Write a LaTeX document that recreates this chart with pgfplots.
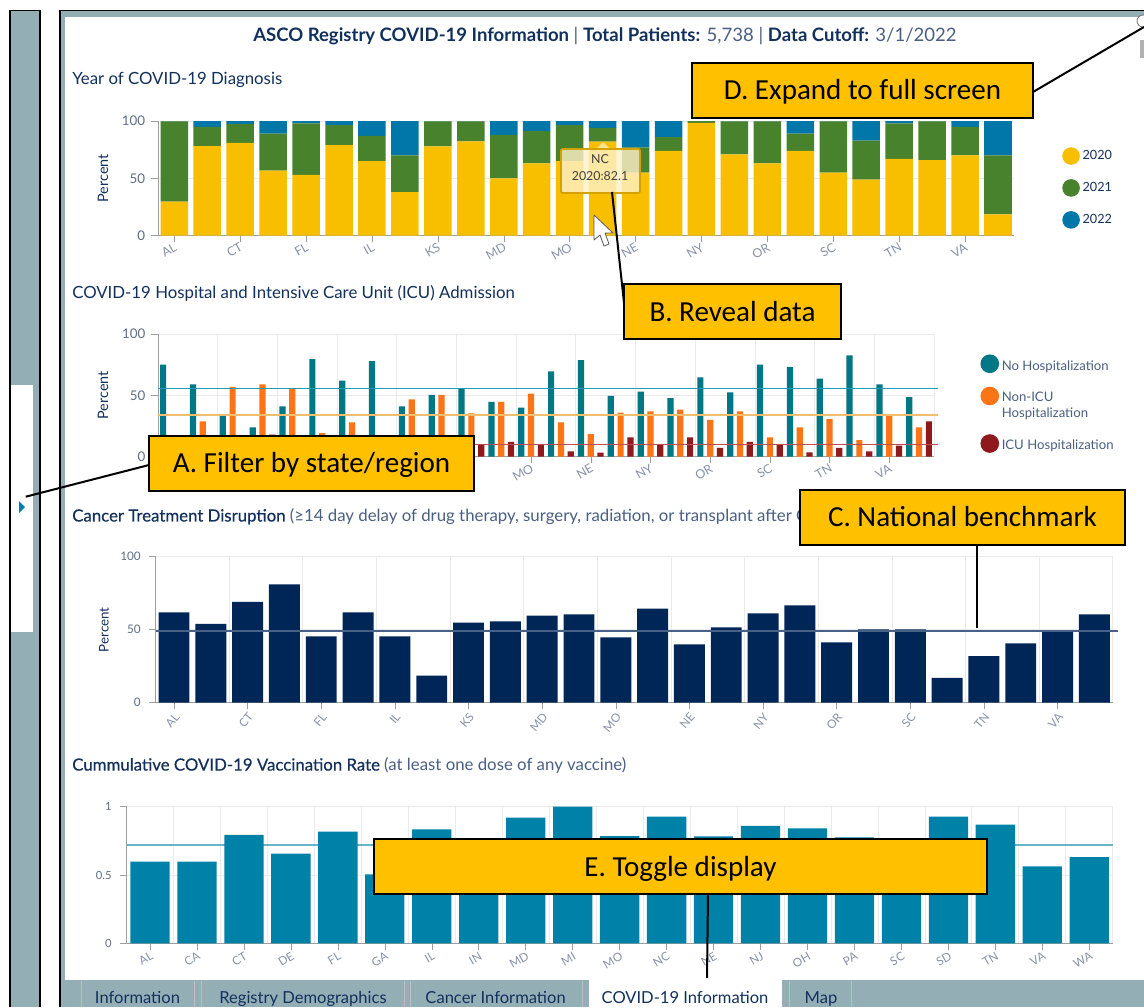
\documentclass[border=0pt]{standalone}
\usepackage{fontspec}
\setmainfont{Lato}
\newfontfamily\callout{Carlito}
\newfontfamily\med[FakeBold=0.4]{Lato}
\usepackage{pgfplots}
\usepackage{pgfplotstable}
\pgfplotsset{compat=1.18}
\definecolor{cy20}{HTML}{F8BF00}
\definecolor{cy21}{HTML}{48822C}
\definecolor{cy22}{HTML}{0077A8}
\definecolor{hteal}{HTML}{007784}
\definecolor{horange}{HTML}{FB7416}
\definecolor{hmaroon}{HTML}{8E1A1E}
\definecolor{navybar}{HTML}{002557}
\definecolor{vacc}{HTML}{0082A8}
\definecolor{panel}{HTML}{94AEB6}
\definecolor{navytext}{HTML}{12305C}
\definecolor{softtext}{HTML}{4A5F82}
\definecolor{ticktext}{HTML}{5E6E88}
\definecolor{xticktext}{HTML}{8792A8}
\definecolor{gridc}{HTML}{EAEAEA}
\definecolor{boxc}{HTML}{FFC000}
\definecolor{bnteal}{HTML}{1F9CB8}
\definecolor{bnorange}{HTML}{F0BE6E}
\definecolor{bnmaroon}{HTML}{C24A55}
\newcommand\F[1]{\fontsize{#1}{1.2\dimexpr#1pt\relax}\selectfont}
\pgfplotstableread{
i a b c
0 29.7 70.0 0.3
1 78.2 16.8 5.0
2 81.0 16.4 2.6
3 56.7 32.3 11.0
4 53.0 45.0 2.0
5 79.0 17.5 3.5
6 65.0 22.0 13.0
7 38.0 32.0 30.0
8 78.0 21.7 0.3
9 82.3 17.4 0.3
10 50.0 38.0 12.0
11 63.0 28.3 8.7
12 65.0 31.5 3.5
13 82.1 11.9 6.0
14 55.0 22.0 23.0
15 74.0 12.0 14.0
16 98.3 1.7 0.0
17 71.0 28.7 0.3
18 63.0 36.7 0.3
19 74.0 15.0 11.0
20 55.0 44.7 0.3
21 49.0 34.0 17.0
22 67.0 31.0 2.0
23 66.0 33.7 0.3
24 70.0 25.0 5.0
25 18.6 51.4 30.0
}\tyear
\pgfplotstableread{
i a b c
0 75.0 16.0 9.0
1 59.0 28.8 10.0
2 33.7 57.0 9.0
3 24.0 59.0 18.0
4 41.0 56.0 4.0
5 79.6 19.3 5.0
6 62.0 28.0 5.0
7 78.0 8.0 14.0
8 41.0 46.7 10.0
9 50.5 50.5 3.0
10 55.7 35.3 10.0
11 44.8 44.8 12.0
12 40.0 51.4 10.0
13 69.6 28.0 4.3
14 78.8 18.5 3.3
15 49.7 36.0 15.8
16 53.0 37.0 10.0
17 47.8 38.3 15.8
18 64.7 30.0 7.3
19 52.4 37.0 12.0
20 75.0 15.8 10.0
21 73.0 24.0 3.5
22 63.6 30.7 7.3
23 82.6 13.6 4.3
24 59.0 33.7 9.0
25 48.6 24.0 28.8
}\thosp
\pgfplotstableread{
i a
0 61.9
1 54.0
2 69.0
3 81.0
4 45.4
5 61.9
6 45.4
7 18.5
8 54.8
9 55.7
10 59.6
11 60.5
12 44.7
13 64.4
14 40.0
15 51.6
16 61.2
17 66.7
18 41.3
19 50.2
20 50.2
21 17.0
22 32.0
23 40.6
24 49.3
25 60.5
}\tdis
\pgfplotstableread{
i a
0 0.598
1 0.598
2 0.793
3 0.656
4 0.817
5 0.505
6 0.834
7 0.70
8 0.920
9 1.000
10 0.785
11 0.927
12 0.783
13 0.859
14 0.841
15 0.776
16 0.72
17 0.927
18 0.868
19 0.563
20 0.630
}\tvac
\pgfplotstableread{
x y
-0.5 55.7
25.65 55.7
}\bnone
\pgfplotstableread{
x y
-0.5 34
25.65 34
}\bntwo
\pgfplotstableread{
x y
-0.5 10.3
25.65 10.3
}\bnthree
\pgfplotstableread{
x y
-0.5 49.1
25.63 49.1
}\bnd
\pgfplotstableread{
x y
-0.5 0.72
20.5 0.72
}\bnv
\pgfplotsset{
 mybase/.style={
  scale only axis, anchor=south west, enlargelimits=false, clip=false,
  axis x line*=bottom, axis y line*=left,
  axis line style={-,draw=black!38},
  tick style={draw=black!38,thin},
  tick align=outside, major tick length=5pt,
  /pgf/number format/assume math mode=true,
  ymajorgrids, major grid style={draw=gridc,line width=0.6pt},
  xminorgrids, minor grid style={draw=gridc,line width=0.6pt},
  minor tick length=0pt,
  xtick={0,2,...,24},
  xticklabels={AL,CT,FL,IL,KS,MD,MO,NE,NY,OR,SC,TN,VA},
  minor xtick={1.5,3.5,5.5,7.5,9.5,11.5,13.5,15.5,17.5,19.5,21.5,23.5,25.5},
  ymin=0, ymax=100, ytick={0,50,100},
  xmin=-0.5, xmax=25.5,
  yticklabel style={font=\F{10},text=ticktext,inner sep=1pt,xshift=-3.3pt},
  xticklabel style={font=\F{9.3},text=xticktext,rotate=30,anchor=east,inner sep=0.5pt,yshift=-3pt},
  ylabel=Percent,
  ylabel style={font=\F{10.8},text=navytext,anchor=center},
  axis on top=false,
 }
}
\begin{document}
\begin{tikzpicture}[x=0.75pt,y=-0.75pt]
\path[use as bounding box] (0,0) rectangle (1144,1007);
% screen frame
\fill[white] (0,0) rectangle (1144,1007);
\fill[panel] (11,11) rectangle (40,1007);
\fill[white] (11,385) rectangle (33,632);
\fill[panel] (60,10) rectangle (1144,1007);
\fill[white] (65,17) rectangle (1144,980);
\draw[black,line width=1.2pt] (10,1007) -- (10,10.5) -- (40,10.5) -- (40,1007);
\draw[black,line width=1.2pt] (60,1007) -- (60,10.5) -- (1144,10.5);
\fill[black!30] (1140,40) rectangle (1144,58);
\draw[black!55,fill=white,line width=0.6pt] (1143,21) circle (6);
\fill[white] (589,980) rectangle (782,1007);
\draw[white!75!black,line width=0.5pt] (81,981) -- (81,1007) (194,981) -- (194,1007) (201,981) -- (201,1007) (404,981) -- (404,1007) (410,981) -- (410,1007) (582,981) -- (582,1007) (789,981) -- (789,1007) (851,981) -- (851,1007);
\foreach \x/\t in {137.5/Information,303/Registry Demographics,495.6/Cancer Information,685/COVID-19 Information,821/Map}{
 \node[text=navytext,font=\F{12.4},inner sep=0pt,anchor=base] at (\x,1003) {\t};
}
\fill[blue!30!cyan!70!black] (19,501) -- (25,507) -- (19,513) -- cycle;
% titles
\node[anchor=west,inner sep=0pt,text=navytext,font=\F{13.9}] at (253,36.5) {\textbf{ASCO Registry COVID-19 Information} {\color{softtext}|} \textbf{Total Patients:} {\color{softtext}5,738 |} \textbf{Data Cutoff:} {\color{softtext}3/1/2022}};
\node[anchor=west,inner sep=0pt,text=navytext,font=\F{12.6}] at (72,79.5) {Year of COVID-19 Diagnosis};
\node[anchor=west,inner sep=0pt,text=navytext,font=\F{12.6}] at (72,293.5) {COVID-19 Hospital and Intensive Care Unit (ICU) Admission};
\node[anchor=west,inner sep=0pt,text=softtext,font=\F{12.6}] at (72,516.5) {{\med\color{navytext}Cancer Treatment Disruption} (≥14 day delay of drug therapy, surgery, radiation, or transplant after COVID-19)};
\node[anchor=west,inner sep=0pt,text=softtext,font=\F{12.6}] at (72,765.5) {{\med\color{navytext}Cummulative COVID-19 Vaccination Rate} (at least one dose of any vaccine)};
% chart 1
\begin{axis}[mybase, ybar stacked, bar width=0.835,
 at={(118.35pt,-176.78pt)}, width=642.5pt, height=86pt,
 xminorgrids=false,
 ylabel style={at={(axis description cs:-0.064,0.5)}},
 legend style={at={(1.0555,0.774)},anchor=north west,draw=none,fill=none,font=\F{9.5},text=navytext,row sep=10.75pt,inner sep=0pt,/tikz/every even column/.append style={column sep=7.25pt}},
 legend cell align=left,
 legend image code/.code={\path[#1] (0.24cm,0) circle (6.6pt);},
]
\addplot[fill=cy20,draw=none,forget plot] table[x=i,y=a]{\tyear};
\addplot[fill=cy21,draw=none,forget plot] table[x=i,y=b]{\tyear};
\addplot[fill=cy22,draw=none,forget plot] table[x=i,y=c]{\tyear};
\addlegendimage{fill=cy20,draw=none}\addlegendentry{2020}
\addlegendimage{fill=cy21,draw=none}\addlegendentry{2021}
\addlegendimage{fill=cy22,draw=none}\addlegendentry{2022}
\end{axis}
% chart 2
\begin{axis}[mybase,
 at={(118.5pt,-342.53pt)}, width=582pt, height=92pt,
 ylabel style={at={(axis description cs:-0.071,0.5)}},
 legend style={at={(1.0595,0.836)},anchor=north west,draw=none,fill=none,font=\F{9.86},text=softtext,row sep=8.9pt,inner sep=0pt,cells={align=left},/tikz/every even column/.append style={column sep=4.5pt}},
 legend cell align=left,
 legend image code/.code={\path[#1] (0.24cm,1.9pt) circle (7pt);},
]
\addplot[ybar,fill=hteal,draw=none,bar width=4.65pt,bar shift=-7.35pt,forget plot] table[x=i,y=a]{\thosp};
\addplot[ybar,fill=horange,draw=none,bar width=4.65pt,bar shift=0pt,forget plot] table[x=i,y=b]{\thosp};
\addplot[ybar,fill=hmaroon,draw=none,bar width=4.65pt,bar shift=7.35pt,forget plot] table[x=i,y=c]{\thosp};
\addplot[draw=bnteal,line width=0.8pt,forget plot] table[x=x,y=y]{\bnone};
\addplot[draw=bnorange,line width=0.9pt,forget plot] table[x=x,y=y]{\bntwo};
\addplot[draw=bnmaroon,line width=0.8pt,forget plot] table[x=x,y=y]{\bnthree};
\addlegendimage{fill=hteal,draw=none}\addlegendentry{No Hospitalization}
\addlegendimage{fill=horange,draw=none,yshift=5.6pt}\addlegendentry{Non-ICU\\Hospitalization}
\addlegendimage{fill=hmaroon,draw=none}\addlegendentry{ICU Hospitalization}
\end{axis}
% chart 3
\begin{axis}[mybase,
 at={(116.7pt,-527.03pt)}, width=717.9pt, height=109.5pt,
 yticklabel style={font=\F{8.8},xshift=-1.7pt},
 xticklabel style={font=\F{8.8},rotate=20,yshift=-1.5pt},
 ylabel style={font=\F{10},at={(axis description cs:-0.054,0.5)}},
]
\addplot[ybar,fill=navybar,draw=none,bar width=0.84] table[x=i,y=a]{\tdis};
\addplot[draw=navybar!72!white,line width=0.9pt] table[x=x,y=y]{\bnd};
\end{axis}
% chart 4
\begin{axis}[mybase,
 at={(94.88pt,-707.48pt)}, width=739.7pt, height=102.5pt,
 xmin=-0.5, xmax=20.5, ymin=0, ymax=1, ytick={0,0.5,1},
 yticklabels={0,0.5,1},
 xtick={0,1,...,20},
 xticklabels={AL,CA,CT,DE,FL,GA,IL,IN,MD,MI,MO,NC,NE,NJ,OH,PA,SC,SD,TN,VA,WA},
 minor xtick={0.5,1.5,...,20.5},
 yticklabel style={font=\F{8.4},xshift=-1.7pt},
 xticklabel style={font=\F{8.8},yshift=-1.2pt},
 ylabel={},
]
\addplot[draw=vacc!60!white,line width=1pt] table[x=x,y=y]{\bnv};
\addplot[ybar,fill=vacc,draw=none,bar width=0.837] table[x=i,y=a]{\tvac};
\end{axis}
% tooltip
\fill[cy20!35!white,opacity=.85] (603,142) -- (610,149) -- (596,149) -- cycle;
\draw[draw=cy20!85!black,fill=cy20!22!white,fill opacity=.82,line width=1.3pt,rounded corners=1pt] (561,149) rectangle (640,193);
\node[font=\F{9.3},text=black!75,inner sep=0pt] at (600,159) {NC};
\node[font=\F{9.3},text=black!75,inner sep=0pt] at (600,176) {2020:82.1};
% cursor
\draw[black!65,fill=white,line width=0.6pt,line join=round] (594,215) -- (594,240) -- (600,235) -- (604,246) -- (609,244) -- (605,233) -- (613,233) -- cycle;
% callout lines
\draw[black,line width=1.5pt] (1033,92) -- (1144,27);
\draw[black,line width=1.5pt] (612,192) -- (625,312);
\draw[black,line width=1.5pt] (149,465) -- (25.7,496.7);
\draw[black,line width=1.5pt] (977,545) -- (977,628);
\draw[black,line width=1.5pt] (708,894) -- (707,978);
% callout boxes
\foreach \a/\b/\c/\d/\o/\t in {692/63/1033/118/1.5/D. Expand to full screen,624/284/841/339/0.5/B. Reveal data,149/436/474/491/1.5/A. Filter by state\slash region,800/490/1125/545/-1/C. National benchmark,374/839/987/894/2.5/E. Toggle display}{
 \draw[black,fill=boxc,line width=1.5pt] (\a,\b) rectangle (\c,\d);
 \node[font=\callout\F{21.8},text=black,inner sep=0pt] at ({(\a+\c)/2},{(\b+\d)/2+\o}) {\t};
}
\end{tikzpicture}
\end{document}
